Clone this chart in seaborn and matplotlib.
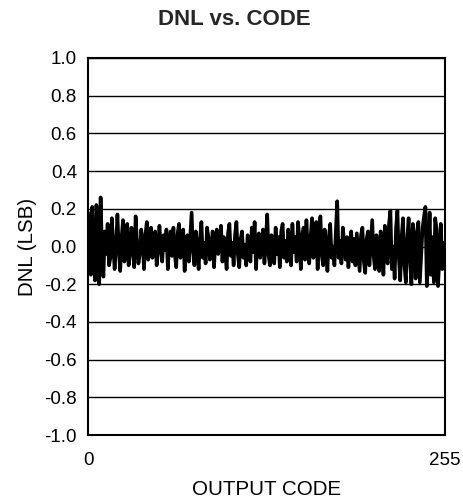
import numpy as np
import pandas as pd
import matplotlib
matplotlib.use("Agg")
import matplotlib.pyplot as plt
import seaborn as sns

sns.set_style("white")
plt.rcParams['font.family'] = ['Liberation Sans', 'DejaVu Sans']
plt.rcParams['axes.unicode_minus'] = False

# DNL (LSB) por codigo de salida, leido a ojo de la grafica
dnl = [
    0.18, 0.05, -0.15, 0.21, -0.05, -0.18, 0.22, 0.10, -0.20, 0.26, -0.02, -0.16, 0.08, -0.04, 0.12, -0.10,
    -0.06, 0.15, 0.02, -0.12, 0.00, 0.17, -0.02, -0.13, 0.05, 0.14, -0.08, -0.03, 0.12, -0.10, -0.05, 0.10,
    0.04, -0.11, 0.16, 0.02, -0.09, -0.04, 0.09, 0.03, -0.12, 0.06, 0.13, -0.07, -0.02, 0.10, -0.06, 0.02,
    0.08, -0.10, -0.03, 0.11, 0.00, -0.08, 0.06, -0.02, 0.09, -0.12, 0.02, 0.08, -0.05, 0.10, -0.04, -0.11,
    0.07, 0.12, -0.06, -0.02, 0.09, -0.13, 0.03, 0.06, -0.08, 0.05, 0.18, -0.03, -0.10, 0.08, 0.00, -0.12,
    0.04, 0.13, -0.06, 0.02, -0.09, 0.10, 0.05, -0.07, -0.02, 0.08, -0.11, 0.03, 0.09, -0.04, 0.00, 0.11,
    -0.08, 0.05, -0.03, -0.12, 0.07, 0.12, -0.05, 0.02, -0.10, 0.06, 0.13, -0.04, -0.11, 0.04, 0.08, -0.06,
    0.01, -0.10, 0.06, 0.02, -0.08, 0.10, -0.03, 0.13, -0.12, 0.04, 0.07, -0.06, 0.01, 0.09, -0.09, 0.03,
    0.17, -0.05, -0.10, 0.06, 0.02, -0.09, 0.10, -0.04, 0.05, -0.11, 0.08, 0.12, -0.06, 0.03, -0.08, 0.09,
    0.02, -0.10, 0.12, -0.03, 0.05, -0.08, 0.13, 0.04, -0.12, 0.06, 0.10, -0.07, 0.14, -0.02, -0.09, 0.05,
    0.15, -0.06, 0.03, 0.13, -0.12, 0.07, 0.16, -0.05, -0.10, 0.09, 0.02, -0.13, 0.05, 0.12, -0.06, 0.00,
    -0.10, 0.08, 0.24, -0.06, 0.03, -0.09, 0.10, 0.02, -0.07, 0.05, -0.11, 0.01, 0.08, -0.08, 0.04, -0.10,
    0.07, -0.03, -0.13, 0.06, 0.10, -0.08, -0.14, 0.04, 0.08, -0.10, 0.02, 0.14, -0.05, -0.12, 0.06, -0.02,
    -0.13, 0.08, 0.03, -0.15, 0.11, -0.04, -0.09, 0.12, 0.19, -0.12, 0.00, -0.17, 0.10, 0.19, -0.06, -0.18,
    0.05, 0.15, -0.10, -0.19, 0.04, 0.15, -0.08, -0.20, 0.12, 0.02, -0.17, 0.08, 0.13, -0.19, -0.05, 0.10,
    0.16, 0.21, -0.21, -0.08, 0.18, -0.15, 0.05, -0.19, 0.15, 0.09, -0.21, -0.06, 0.12, -0.12, 0.02, 0.00,
]
codigos = list(range(len(dnl)))
yticks = [-1.0, -0.8, -0.6, -0.4, -0.2, 0.0, 0.2, 0.4, 0.6, 0.8, 1.0]
xticks = [0, 255]

df = pd.DataFrame({"code": codigos, "dnl": dnl})

fig = plt.figure(figsize=(4.64, 4.99), dpi=100)
ax = fig.add_axes([0.1897, 0.128, 0.7694, 0.756])

sns.lineplot(x="code", y="dnl", data=df, color="black", linewidth=2.6, ax=ax)

ax.set_xlim(0, 255)
ax.set_ylim(-1.0, 1.0)
ax.set_yticks(yticks)
ax.set_yticklabels(['%1.1f' % v for v in yticks])
ax.set_xticks(xticks)
ax.yaxis.grid(True, color="black", linewidth=1.0)
ax.xaxis.grid(False)
ax.tick_params(axis="both", length=0, labelsize=13.5, colors="black")
ax.tick_params(axis="x", pad=12)
ax.tick_params(axis="y", pad=8)
for s in ax.spines.values():
    s.set_color("black")
    s.set_linewidth(1.5)

ax.set_xlabel("OUTPUT CODE", fontsize=14.8, labelpad=8, color="black")
ax.set_ylabel("DNL (LSB)", fontsize=14.8, labelpad=5, color="black")
fig.text(0.505, 0.961, "DNL vs. CODE", ha="center", va="center", fontsize=16, fontweight="bold")

fig.savefig("out.png", dpi=100)
